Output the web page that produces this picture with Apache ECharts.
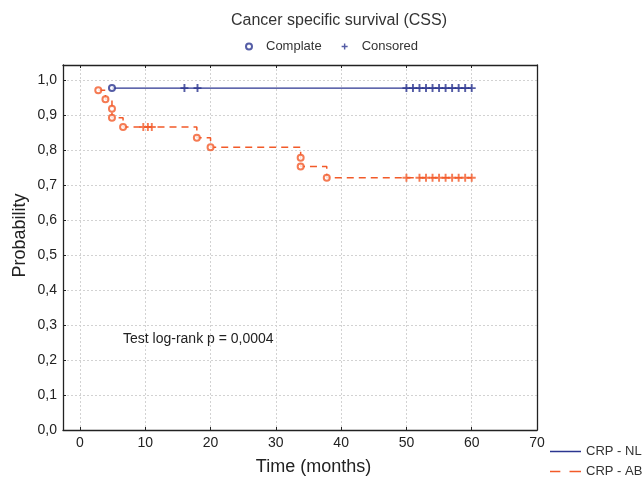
<!DOCTYPE html>
<html>
<head>
<meta charset="utf-8">
<script src="https://cdn.jsdelivr.net/npm/echarts@6.0.0/dist/echarts.min.js"></script>
<style>
html, body { margin: 0; padding: 0; background: #fff; }
#css { width: 644px; height: 478px; }
</style>
</head>
<body>
<div id="css"></div>
<script>
// CRP - NL (blue): survival steps, event times, censored times
var nlTime = [4.9, 60];
var nlProb = [0.977, 0.977];
var nlEventTime = [4.9];
var nlCensorTime = [16, 18, 50, 51, 52, 53, 54, 55, 56, 57, 58, 59, 60];

// CRP - AB (orange)
var abTime = [2.8, 3.9, 4.9, 4.9, 6.6, 17.9, 20.0, 33.8, 33.8, 37.8, 60];
var abProb = [0.971, 0.945, 0.918, 0.892, 0.866, 0.835, 0.808, 0.778, 0.753, 0.721, 0.721];
var abEventCount = 10;
var abCensorTime = [9.7, 10.4, 11.0, 50, 52, 53, 54, 55, 56, 57, 58, 59, 60];

var yTicks = ['0,0', '0,1', '0,2', '0,3', '0,4', '0,5', '0,6', '0,7', '0,8', '0,9', '1,0'];

var blue = '#2b3590';
var orange = '#f25a29';
var font = '"Liberation Sans", Arial, sans-serif';
var plusPath = 'path://M3.8,0h2.4v3.8h3.8v2.4h-3.8v3.8h-2.4v-3.8h-3.8v-2.4h3.8z';
var solidIcon = 'path://M0,0h31v1.5h-31z';
var dashIcon = 'path://M0,0h9v1.5h-9zM17,0h10v1.5h-10z';

// 取某时刻的生存率（阶梯函数）
function probAt(times, probs, t) {
	var p = probs[0];
	for (var i = 0; i < times.length; i++) {
		if (times[i] <= t) p = probs[i];
	}
	return p;
}

function isTenth(v) {
	return Math.abs(v * 10 - Math.round(v * 10)) < 1e-6;
}

// 右下角曲线图例（每条一个）
function lineLegend(name, icon, color, top) {
	return {
		data: [{ name: name, icon: icon, itemStyle: { color: color } }],
		left: 550,
		top: top,
		padding: 0,
		itemWidth: 31,
		itemHeight: 10,
		selectedMode: false,
		textStyle: { fontSize: 13, color: '#333', fontFamily: font }
	};
}

var chart = echarts.init(document.getElementById('css'));

var eventData = [];
for (var i = 0; i < nlEventTime.length; i++) {
	eventData.push({ value: [nlEventTime[i], probAt(nlTime, nlProb, nlEventTime[i])], itemStyle: { color: blue } });
}
for (var j = 0; j < abEventCount; j++) {
	eventData.push({ value: [abTime[j], abProb[j]], itemStyle: { color: orange } });
}

var censorData = [];
nlCensorTime.forEach(function (t) {
	censorData.push({ value: [t, probAt(nlTime, nlProb, t)], itemStyle: { color: blue } });
});
abCensorTime.forEach(function (t) {
	censorData.push({ value: [t, probAt(abTime, abProb, t)], itemStyle: { color: orange } });
});

var option = {
	animation: false,
	textStyle: { fontFamily: font },
	title: {
		text: 'Cancer specific survival (CSS)',
		left: 334,
		top: 8,
		textAlign: 'center',
		textStyle: { fontSize: 16, fontWeight: 'normal', color: '#333', fontFamily: font }
	},
	legend: [{
		data: [
			{ name: 'Complate', icon: 'emptyCircle' },
			{ name: 'Consored', icon: plusPath }
		],
		left: 240,
		top: 35,
		itemWidth: 24,
		itemHeight: 6,
		itemGap: 20,
		selectedMode: false,
		textStyle: { fontSize: 13, color: '#333', fontFamily: font }
	},
	lineLegend('CRP - NL', solidIcon, blue, 445),
	lineLegend('CRP - AB', dashIcon, orange, 465)],
	grid: { left: 63, right: 107, top: 65, bottom: 48, outerBoundsMode: 'none' },
	xAxis: [{
		type: 'value',
		min: -2.6,
		max: 70,
		splitNumber: 7,
		name: 'Time (months)',
		nameLocation: 'middle',
		nameGap: 28,
		nameTextStyle: { fontSize: 18, color: '#222', padding: [0, 0, 0, 27] },
		axisLine: { show: true, lineStyle: { color: '#222', width: 1.3 } },
		axisTick: { show: true, inside: true, length: 3, lineStyle: { color: '#222' } },
		axisLabel: {
			fontSize: 14, color: '#222', margin: 6,
			formatter: function (v) { return v % 10 === 0 ? String(v) : ''; }
		},
		splitLine: { show: true, lineStyle: { color: '#d2d2d2', type: [2, 2] } }
	}, {
		type: 'value',
		position: 'top',
		min: -2.6,
		max: 70,
		splitNumber: 7,
		axisLine: { show: true, onZero: false, lineStyle: { color: '#222', width: 1.3 } },
		axisTick: { show: true, inside: true, length: 3, lineStyle: { color: '#222' } },
		axisLabel: { show: false },
		splitLine: { show: false }
	}],
	yAxis: [{
		type: 'value',
		min: 0,
		max: 1.043,
		interval: 0.1,
		name: 'Probability',
		nameLocation: 'middle',
		nameGap: 34,
		nameMoveOverlap: false,
		nameTextStyle: { fontSize: 18, color: '#222', padding: [0, 0, 0, 24] },
		axisLine: { show: true, onZero: false, lineStyle: { color: '#222', width: 1.3 } },
		axisTick: { show: true, inside: true, length: 3, lineStyle: { color: '#222' } },
		axisLabel: {
			fontSize: 14, color: '#222', margin: 6,
			formatter: function (v) { return isTenth(v) ? yTicks[Math.round(v * 10)] : ''; }
		},
		splitLine: { show: true, lineStyle: { color: '#d2d2d2', type: [2, 2] } }
	}, {
		type: 'value',
		position: 'right',
		min: 0,
		max: 1.043,
		interval: 0.1,
		axisLine: { show: true, onZero: false, lineStyle: { color: '#222', width: 1.3 } },
		axisTick: { show: false },
		axisLabel: { show: false },
		splitLine: { show: false }
	}],
	graphic: [{
		type: 'text',
		left: 123,
		top: 332,
		style: { text: 'Test log-rank p = 0,0004', fontSize: 14, fill: '#222', fontFamily: font }
	}],
	series: [{
		name: 'CRP - NL',
		type: 'line',
		step: 'end',
		symbol: 'none',
		data: nlTime.map(function (t, k) { return [t, nlProb[k]]; }),
		lineStyle: { color: blue, width: 1.3 },
		itemStyle: { color: blue },
		z: 2
	}, {
		name: 'CRP - AB',
		type: 'line',
		step: 'end',
		symbol: 'none',
		data: abTime.map(function (t, k) { return [t, abProb[k]]; }),
		lineStyle: { color: orange, width: 1.5, type: [7, 5] },
		itemStyle: { color: orange },
		z: 2
	}, {
		name: 'Complate',
		type: 'scatter',
		symbol: 'emptyCircle',
		symbolSize: 6,
		itemStyle: { color: blue, borderWidth: 1.1 },
		data: eventData,
		z: 4
	}, {
		name: 'Consored',
		type: 'scatter',
		symbol: plusPath,
		symbolSize: 8,
		itemStyle: { color: blue },
		data: censorData,
		z: 3
	}]
};

chart.setOption(option);
window.addEventListener('resize', function () {
	chart.resize();
});
</script>
</body>
</html>
